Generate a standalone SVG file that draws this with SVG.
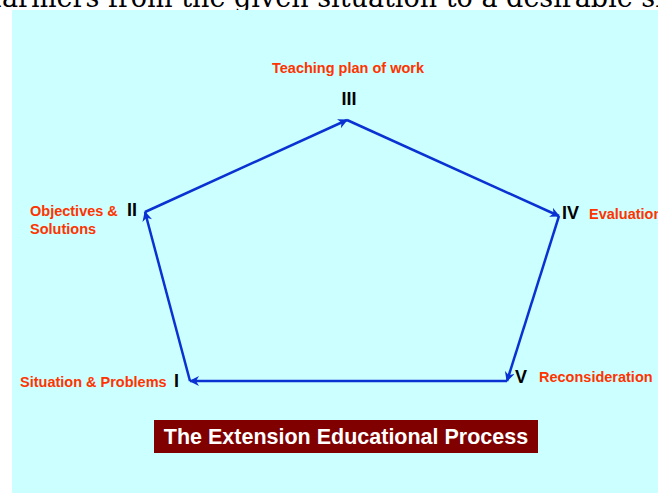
<svg xmlns="http://www.w3.org/2000/svg" width="658" height="493" viewBox="0 0 658 493">
  <style>
    .lbl { font-family: "Liberation Sans", Arial, sans-serif; font-weight: bold; font-size: 14.5px; fill: #ff3300; }
    .num { font-family: "Liberation Sans", Arial, sans-serif; font-weight: bold; font-size: 18px; fill: #000000; }
    .edge { stroke: #0a32d2; stroke-width: 2.5; fill: none; marker-end: url(#arrow); }
    .title { font-family: "Liberation Sans", Arial, sans-serif; font-weight: bold; font-size: 21.5px; fill: #ffffff; }
  </style>
  <defs>
    <marker id="arrow" viewBox="0 0 10 10" refX="9" refY="5" markerWidth="4" markerHeight="4" orient="auto" markerUnits="strokeWidth">
      <path d="M0,0 L10,5 L0,10 L3,5 Z" fill="#0a32d2"/>
    </marker>
  </defs>

  <!-- page background and slide text cut at the top -->
  <rect x="0" y="0" width="658" height="493" fill="#ffffff"/>
  <text x="-8" y="6.5" font-family="'DejaVu Serif', serif" font-size="27" fill="#000000">farmers from the given situation to a desirable situation</text>
  <rect x="12" y="10" width="646" height="483" fill="#ccffff"/>

  <!-- cycle connectors -->
  <g id="connectors">
    <line class="edge" x1="190" y1="381" x2="145" y2="212"/>
    <line class="edge" x1="145" y1="212" x2="347" y2="120"/>
    <line class="edge" x1="347" y1="120" x2="559" y2="216"/>
    <line class="edge" x1="559" y1="216" x2="507" y2="381"/>
    <line class="edge" x1="507" y1="381" x2="190" y2="381"/>
  </g>

  <g id="node-I">
    <text class="num" x="174" y="387">I</text>
    <text class="lbl" x="20" y="387">Situation &amp; Problems</text>
  </g>
  <g id="node-II">
    <text class="num" x="127" y="216">II</text>
    <text class="lbl" x="30" y="216">Objectives &amp;</text>
    <text class="lbl" x="30" y="234">Solutions</text>
  </g>
  <g id="node-III">
    <text class="num" x="349" y="105" text-anchor="middle">III</text>
    <text class="lbl" x="348" y="73" text-anchor="middle">Teaching plan of work</text>
  </g>
  <g id="node-IV">
    <text class="num" x="562" y="219">IV</text>
    <text class="lbl" x="589" y="219">Evaluation</text>
  </g>
  <g id="node-V">
    <text class="num" x="515" y="383">V</text>
    <text class="lbl" x="539" y="382">Reconsideration</text>
  </g>

  <g id="title">
    <rect x="154" y="420" width="384" height="33" fill="#800000"/>
    <text class="title" x="346" y="444" text-anchor="middle">The Extension Educational Process</text>
  </g>
</svg>
